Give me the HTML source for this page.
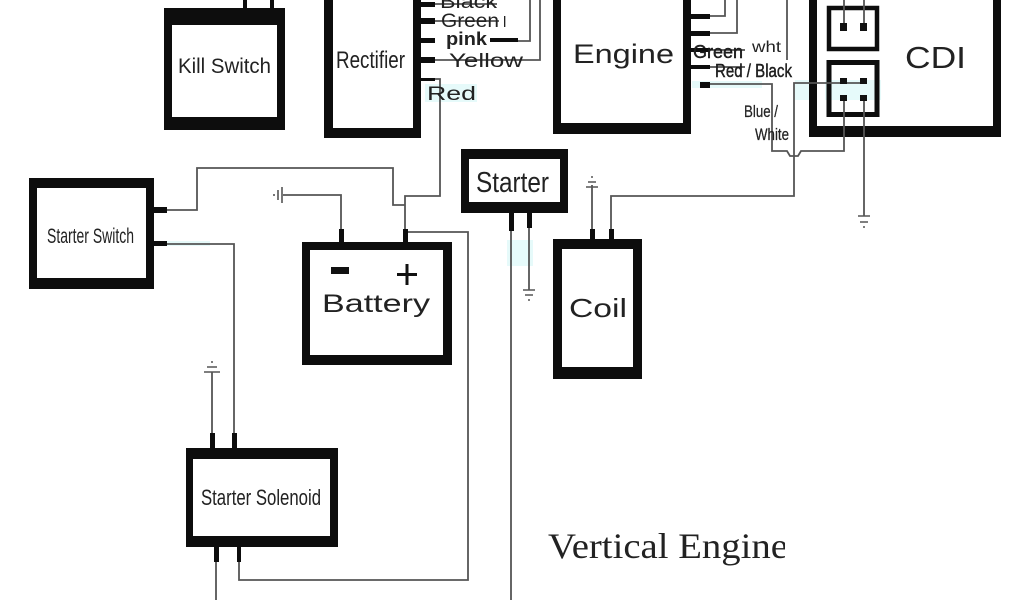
<!DOCTYPE html>
<html><head><meta charset="utf-8"><title>Vertical Engine wiring diagram</title>
<style>html,body{margin:0;padding:0;background:#fff}svg{display:block}
text{font-family:"Liberation Sans",sans-serif;fill:#222}</style></head>
<body>
<svg width="1024" height="600" viewBox="0 0 1024 600" xmlns="http://www.w3.org/2000/svg" style="filter:blur(.35px)">
<rect width="1024" height="600" fill="#fff"/>
<!-- pale noise -->
<g fill="#e6fafa">
<rect x="692" y="81" width="70" height="7"/>
<rect x="795" y="80" width="14" height="20"/>
<rect x="150" y="241" width="60" height="5"/>
<rect x="425" y="84" width="52" height="18"/>
<rect x="507" y="240" width="26" height="26"/>
</g>
<!-- wires -->
<g fill="none" stroke="#555" stroke-width="1.8">
<path d="M421 4H497"/><path d="M421 21H499"/><path d="M518 41H530V0"/><path d="M430 60H540V0"/>
<path d="M421 79H440V196H405V240"/>
<path d="M160 210H197V168H393V205H405"/>
<path d="M283 195H341V240"/>
<path d="M405 232H468V580H239V550"/>
<path d="M160 244H234V440"/>
<path d="M212 372V440"/>
<path d="M216 550V600"/>
<path d="M511 220V600"/>
<path d="M529 220V290"/>
<path d="M592 185V235"/>
<path d="M611 235V196H794V83H809"/>
<path d="M700 16H725V0"/><path d="M700 33H737V0"/><path d="M787 0V60"/>
<path d="M700 84H772V151H787L790 156H798L801 151H809"/>
<path d="M809 151H844V130"/>
<path d="M864 130V216"/>
</g>
<g fill="none" stroke="#333" stroke-width="1.5">
<path d="M696 50H745M696 67H745"/>
</g>
<!-- grounds -->
<g stroke="#555" stroke-width="1.6" fill="none">
<path d="M282 187V203M278 190V200M274 194V196"/>
<path d="M204 372H220M207 367H217M211 362H213"/>
<path d="M523 290H535M525 295H533M528 300H530"/>
<path d="M586 187H598M588 182H596M591 177H593"/>
<path d="M858 216H870M860 222H868M863 227H865"/>
</g>
<!-- stubs -->
<g fill="#0d0d0d">
<rect x="243" y="0" width="4" height="9"/><rect x="270" y="0" width="4" height="9"/>
<rect x="421" y="2" width="14" height="5"/><rect x="421" y="18" width="14" height="6"/><rect x="421" y="38" width="14" height="5"/><rect x="421" y="57" width="14" height="6"/><rect x="421" y="78" width="14" height="3"/>
<rect x="490" y="38" width="28" height="4"/>
<rect x="691" y="14" width="19" height="5"/><rect x="691" y="31" width="19" height="5"/><rect x="691" y="48" width="19" height="4"/><rect x="691" y="65" width="19" height="4"/><rect x="700" y="82" width="10" height="6"/>
<rect x="154" y="207" width="13" height="6"/><rect x="154" y="241" width="13" height="5"/>
<rect x="339" y="229" width="5" height="14"/><rect x="403" y="229" width="5" height="14"/>
<rect x="509" y="213" width="5" height="18"/><rect x="527" y="213" width="5" height="15"/>
<rect x="590" y="229" width="5" height="11"/><rect x="609" y="229" width="5" height="11"/>
<rect x="210" y="433" width="5" height="16"/><rect x="232" y="433" width="5" height="16"/>
<rect x="214" y="546" width="5" height="16"/><rect x="237" y="546" width="4" height="16"/>
<!-- box outers -->
<rect x="164" y="8" width="121" height="122"/>
<rect x="324" y="-5" width="97" height="143"/>
<rect x="553" y="-5" width="138" height="139"/>
<rect x="809" y="-5" width="192" height="142"/>
<rect x="29" y="178" width="125" height="111"/>
<rect x="302" y="242" width="150" height="123"/>
<rect x="461" y="149" width="107" height="64"/>
<rect x="553" y="239" width="89" height="140"/>
<rect x="186" y="448" width="152" height="99"/>
</g>
<g fill="#fff">
<rect x="172" y="25" width="105" height="92"/>
<rect x="333" y="-5" width="80" height="133"/>
<rect x="561" y="-5" width="122" height="128"/>
<rect x="817" y="-5" width="176" height="131"/>
<rect x="37" y="188" width="109" height="90"/>
<rect x="310" y="250" width="133" height="105"/>
<rect x="469" y="159" width="91" height="43"/>
<rect x="562" y="249" width="71" height="118"/>
<rect x="193" y="459" width="137" height="77"/>
</g>
<!-- CDI interior -->
<rect x="825" y="80" width="56" height="20" fill="#e6fafa"/>
<g fill="none" stroke="#0d0d0d">
<rect x="829" y="8" width="48" height="41" stroke-width="4.500"/>
<rect x="829" y="62.500" width="48" height="52" stroke-width="5"/>
</g>
<g fill="none" stroke="#555" stroke-width="1.8">
<path d="M844 0V27M864 0V27M844 98V137M864 98V137"/>
<path d="M809 83H860"/>
</g>
<g fill="#111">
<rect x="840" y="23" width="7" height="8"/><rect x="860" y="23" width="7" height="8"/>
<rect x="840" y="78" width="7" height="6"/><rect x="860" y="78" width="7" height="6"/>
<rect x="840" y="95" width="7" height="6"/><rect x="860" y="95" width="7" height="6"/>
<rect x="331" y="267" width="18" height="7"/>
<rect x="397" y="273" width="20" height="3"/><rect x="405.500" y="264" width="3" height="21"/>
</g>
<!-- labels -->
<text x="178" y="73" font-size="21" textLength="93" lengthAdjust="spacingAndGlyphs" fill="#444">Kill Switch</text>
<text x="336" y="68" font-size="24" textLength="69" lengthAdjust="spacingAndGlyphs" fill="#555">Rectifier</text>
<text x="440" y="8" font-size="19" textLength="57" lengthAdjust="spacingAndGlyphs" fill="#333">Black</text>
<text x="441" y="27" font-size="19" textLength="58" lengthAdjust="spacingAndGlyphs" fill="#555">Green</text>
<text x="503" y="27" font-size="15" fill="#888">l</text>
<text x="446" y="45" font-size="18" font-weight="700" textLength="41" lengthAdjust="spacingAndGlyphs" fill="#111">pink</text>
<text x="449" y="67" font-size="19" textLength="74" lengthAdjust="spacingAndGlyphs" fill="#444">Yellow</text>
<text x="427" y="100" font-size="19" textLength="49" lengthAdjust="spacingAndGlyphs" fill="#5a7a80">Red</text>
<text x="573" y="63" font-size="27" textLength="101" lengthAdjust="spacingAndGlyphs" fill="#333">Engine</text>
<text x="693" y="58" font-size="18" textLength="50" lengthAdjust="spacingAndGlyphs" fill="#111" stroke="#111" stroke-width=".4">Green</text>
<text x="752" y="52" font-size="16" textLength="29" lengthAdjust="spacingAndGlyphs" fill="#333">wht</text>
<text x="715" y="77" font-size="18" textLength="77" lengthAdjust="spacingAndGlyphs" fill="#111" stroke="#111" stroke-width=".4">Red / Black</text>
<text x="744" y="117" font-size="17" textLength="34" lengthAdjust="spacingAndGlyphs" fill="#222" stroke="#222" stroke-width=".25">Blue /</text>
<text x="755" y="140" font-size="17" textLength="34" lengthAdjust="spacingAndGlyphs" fill="#222" stroke="#222" stroke-width=".25">White</text>
<text x="905" y="68" font-size="31" textLength="61" lengthAdjust="spacingAndGlyphs" fill="#333">CDI</text>
<text x="47" y="243" font-size="21" textLength="87" lengthAdjust="spacingAndGlyphs" fill="#555">Starter Switch</text>
<text x="322" y="312" font-size="25" textLength="108" lengthAdjust="spacingAndGlyphs" fill="#333">Battery</text>
<text x="476" y="192" font-size="29" textLength="73" lengthAdjust="spacingAndGlyphs" fill="#222">Starter</text>
<text x="569" y="317" font-size="26" textLength="58" lengthAdjust="spacingAndGlyphs" fill="#222">Coil</text>
<text x="201" y="505" font-size="22" textLength="120" lengthAdjust="spacingAndGlyphs" fill="#444">Starter Solenoid</text>
<svg x="540" y="520" width="245" height="60" viewBox="540 520 245 60">
<text x="548" y="558" font-size="36" textLength="240" lengthAdjust="spacingAndGlyphs" style="font-family:'Liberation Serif',serif" fill="#222">Vertical Engine</text>
</svg>
</svg>
</body></html>
